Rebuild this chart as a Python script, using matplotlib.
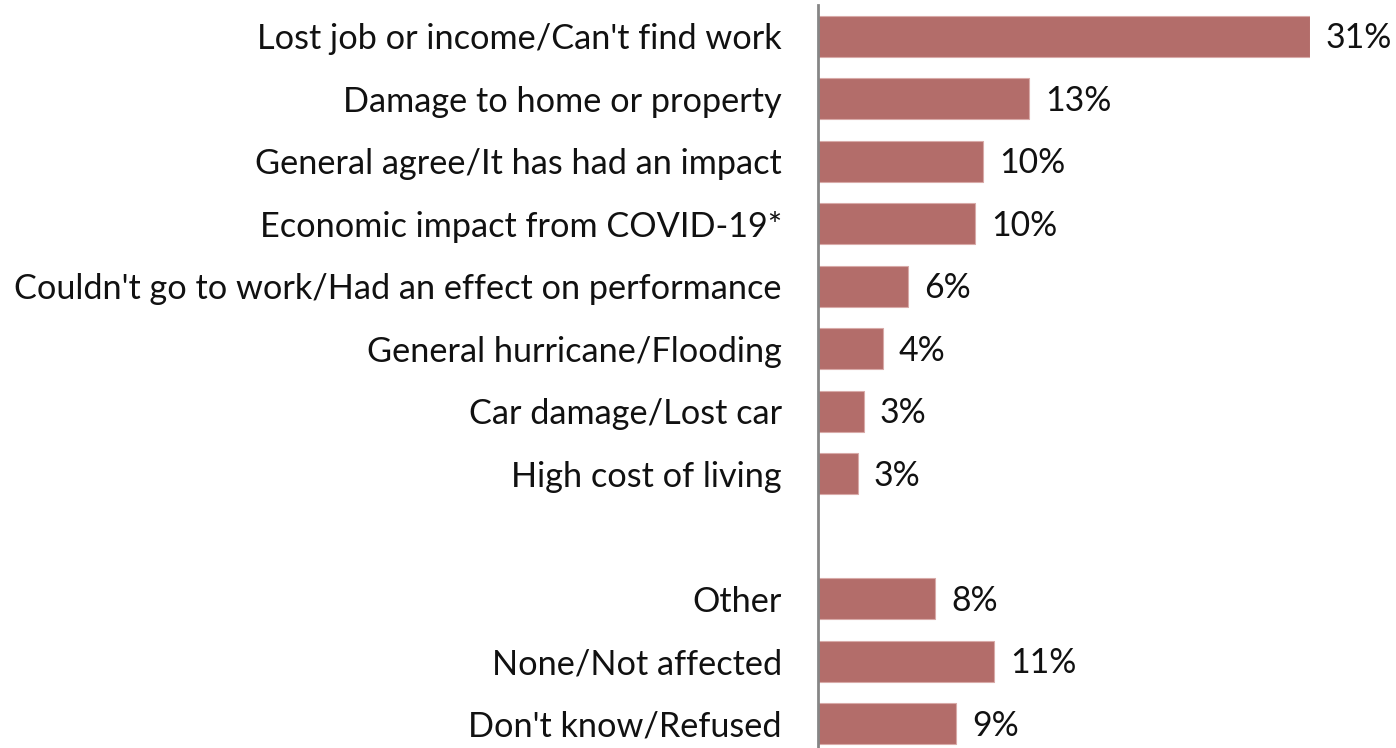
import matplotlib.pyplot as plt

plt.rcParams['font.family'] = ['Lato', 'DejaVu Sans']

categories = [
    'Lost job or income/Can\'t find work',
    'Damage to home or property',
    'General agree/It has had an impact',
    'Economic impact from COVID-19*',
    'Couldn\'t go to work/Had an effect on performance',
    'General hurricane/Flooding',
    'Car damage/Lost car',
    'High cost of living',
    'Other',
    'None/Not affected',
    'Don\'t know/Refused',
]
values = [31.0, 13.3, 10.4, 9.9, 5.7, 4.1, 2.9, 2.5, 7.4, 11.1, 8.7]
value_labels = ['31%', '13%', '10%', '10%', '6%', '4%', '3%', '3%', '8%', '11%', '9%']

# slot 8 is left empty as a spacer between the two groups
positions = [0, 1, 2, 3, 4, 5, 6, 7, 9, 10, 11]

W, H = 1396, 748
fig = plt.figure(figsize=(W / 100, H / 100), dpi=100)
ax = fig.add_axes([818 / W, 0, 492 / W, 743 / H])

ax.barh(positions, values, height=0.66, color='#b36d6a',
        edgecolor='#d8aaa8', linewidth=0.8)

ax.set_xlim(0, 31.0)
ax.set_ylim(11.39, -0.5)

for p, v, lab in zip(positions, values, value_labels):
    ax.text(v + 1.0, p + 0.03, lab, va='center', ha='left', fontsize=24.3,
            color='#111111', clip_on=False)

ax.set_yticks(positions)
ax.set_yticklabels(categories, fontsize=24.7, color='#111111')
ax.tick_params(axis='y', length=0, pad=26)
ax.set_xticks([])

for s in ['top', 'right', 'bottom']:
    ax.spines[s].set_visible(False)
ax.spines['left'].set_color('#868686')
ax.spines['left'].set_linewidth(2)

fig.savefig('out.png', dpi=100)
